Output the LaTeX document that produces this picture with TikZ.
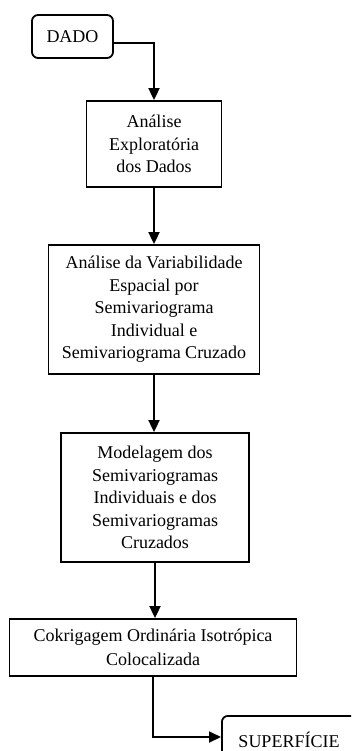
\documentclass[tikz,border=0pt]{standalone}
\usepackage{fontspec}
\setmainfont{Liberation Serif}
\usetikzlibrary{arrows.meta}
\begin{document}
\begin{tikzpicture}[x=1pt,y=-1pt,
  box/.style={draw, line width=1.8pt, inner sep=0pt, align=center,
    font=\fontsize{18}{22.5}\selectfont},
  rbox/.style={box, rounded corners=6pt},
  arr/.style={line width=1.8pt, -{Triangle[length=12pt,width=11pt]}}]
\useasboundingbox (0,0) rectangle (351,751);
\clip (0,0) rectangle (351,751);
\node[rbox, minimum width=81pt, minimum height=43pt] (a) at (72.5,36.5) {DADO};
\node[box, minimum width=135pt, minimum height=86pt] (b) at (154,144)
  {Análise\\Exploratória\\dos Dados};
\node[box, minimum width=211pt, minimum height=129pt] (c) at (154,309.5)
  {Análise da Variabilidade\\Espacial por\\Semivariograma\\Individual e\\Semivariograma Cruzado};
\node[box, minimum width=188pt, minimum height=129pt] (d) at (155,497.5)
  {Modelagem dos\\Semivariogramas\\Individuais e dos\\Semivariogramas\\Cruzados};
\node[box, minimum width=287pt, minimum height=57pt] (e) at (153,647.5)
  {Cokrigagem Ordinária Isotrópica\\[1.5pt]Colocalizada};
\node[rbox, anchor=north west, minimum width=180pt, minimum height=80pt] (f) at (221,715) {};
\node[anchor=base, inner sep=0pt, font=\fontsize{18}{22.5}\selectfont] (ft) at (289,747) {SUPERFÍCIE};
\draw[arr] ([yshift=-6.5pt]a.east) -| (b.north);
\draw[arr] (b.south) -- (b.south |- c.north);
\draw[arr] (c.south) -- (c.south |- d.north);
\draw[arr] (d.south) -- (d.south |- e.north);
\coordinate (j) at (f.west |- 0,737);
\draw[arr] (e.south) |- (j);
\end{tikzpicture}
\end{document}
